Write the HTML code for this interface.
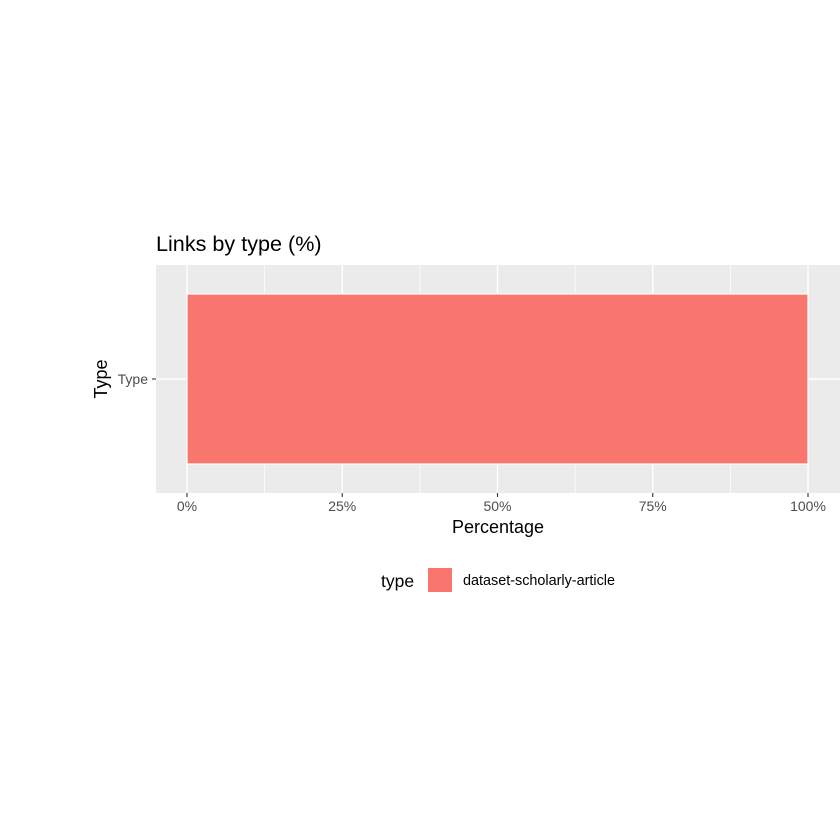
<!DOCTYPE html>
<html><head><meta charset="utf-8"><style>
body{margin:0;background:#fff;}
svg{display:block;font-family:"Liberation Sans",sans-serif;}
</style></head><body>
<svg id="chart" width="840" height="840">
<rect width="840" height="840" fill="#fff"/>
<text x="156" y="251" font-size="21.6" fill="#000">Links by type (%)</text>
<rect x="156" y="265" width="684" height="228" fill="#ebebeb"/>
<g id="grid"></g>
<g id="bars"></g>
<g id="xaxis"></g>
<g id="yaxis"></g>
<text x="498" y="533" font-size="18" text-anchor="middle" fill="#000">Percentage</text>
<text transform="translate(107,379) rotate(-90)" font-size="18" text-anchor="middle" fill="#000">Type</text>
<g>
<text x="381" y="587" font-size="17.5" fill="#000">type</text>
<rect x="428" y="568" width="24" height="24" fill="#f8766d"/>
<text x="463" y="585" font-size="14.4" fill="#000">dataset-scholarly-article</text>
</g>
</svg>
<script>
const categories = ["Type"];
const seriesNames = ["dataset-scholarly-article"];
const values = [100];
const xTicks = [0, 25, 50, 75, 100];
const xTickLabels = ["0%", "25%", "50%", "75%", "100%"];

const NS = "http://www.w3.org/2000/svg";
const x = v => 187 + (808 - 187) * v / 100;
const yCenter = 379, bandHalf = 85;
function mk(tag, attrs, parent){
  const e = document.createElementNS(NS, tag);
  for (const k in attrs) e.setAttribute(k, attrs[k]);
  parent.appendChild(e);
  return e;
}
const grid = document.getElementById("grid");
for (let i = 0; i < xTicks.length - 1; i++) {
  const m = x((xTicks[i] + xTicks[i+1]) / 2);
  const l = mk("line", {x1:m, x2:m, y1:265, y2:493, stroke:"#fff", "stroke-width":0.7}, grid);
  
  
}
xTicks.forEach(t => {
  const l = mk("line", {x1:x(t), x2:x(t), y1:265, y2:493, stroke:"#fff", "stroke-width":1.4}, grid);
  
  
});
const hl = mk("line", {x1:156, x2:840, y1:yCenter, y2:yCenter, stroke:"#fff", "stroke-width":1.4}, grid);



const bars = document.getElementById("bars");
values.forEach((v, i) => {
  const r = mk("rect", {x:x(0), y:yCenter - bandHalf, width:x(v) - x(0), height:2*bandHalf, fill:"#f8766d", stroke:"#fff", "stroke-width":1.2}, bars);
  
  
});

const xa = document.getElementById("xaxis");
xTicks.forEach((t, i) => {
  const tk = mk("line", {x1:x(t), x2:x(t), y1:493, y2:497, stroke:"#333", "stroke-width":1.1}, xa);
  
  
  const tx = mk("text", {x:x(t), y:511, "font-size":14, "text-anchor":"middle", fill:"#4d4d4d"}, xa);
  tx.textContent = xTickLabels[i];
  
  
});
const ya = document.getElementById("yaxis");
categories.forEach(c => {
  const tk = mk("line", {x1:152, x2:156, y1:yCenter, y2:yCenter, stroke:"#333", "stroke-width":1.1}, ya);
  
  
  const tx = mk("text", {x:148, y:yCenter + 5, "font-size":14, "text-anchor":"end", fill:"#4d4d4d"}, ya);
  tx.textContent = c;
  
  
});
</script>
</body></html>
